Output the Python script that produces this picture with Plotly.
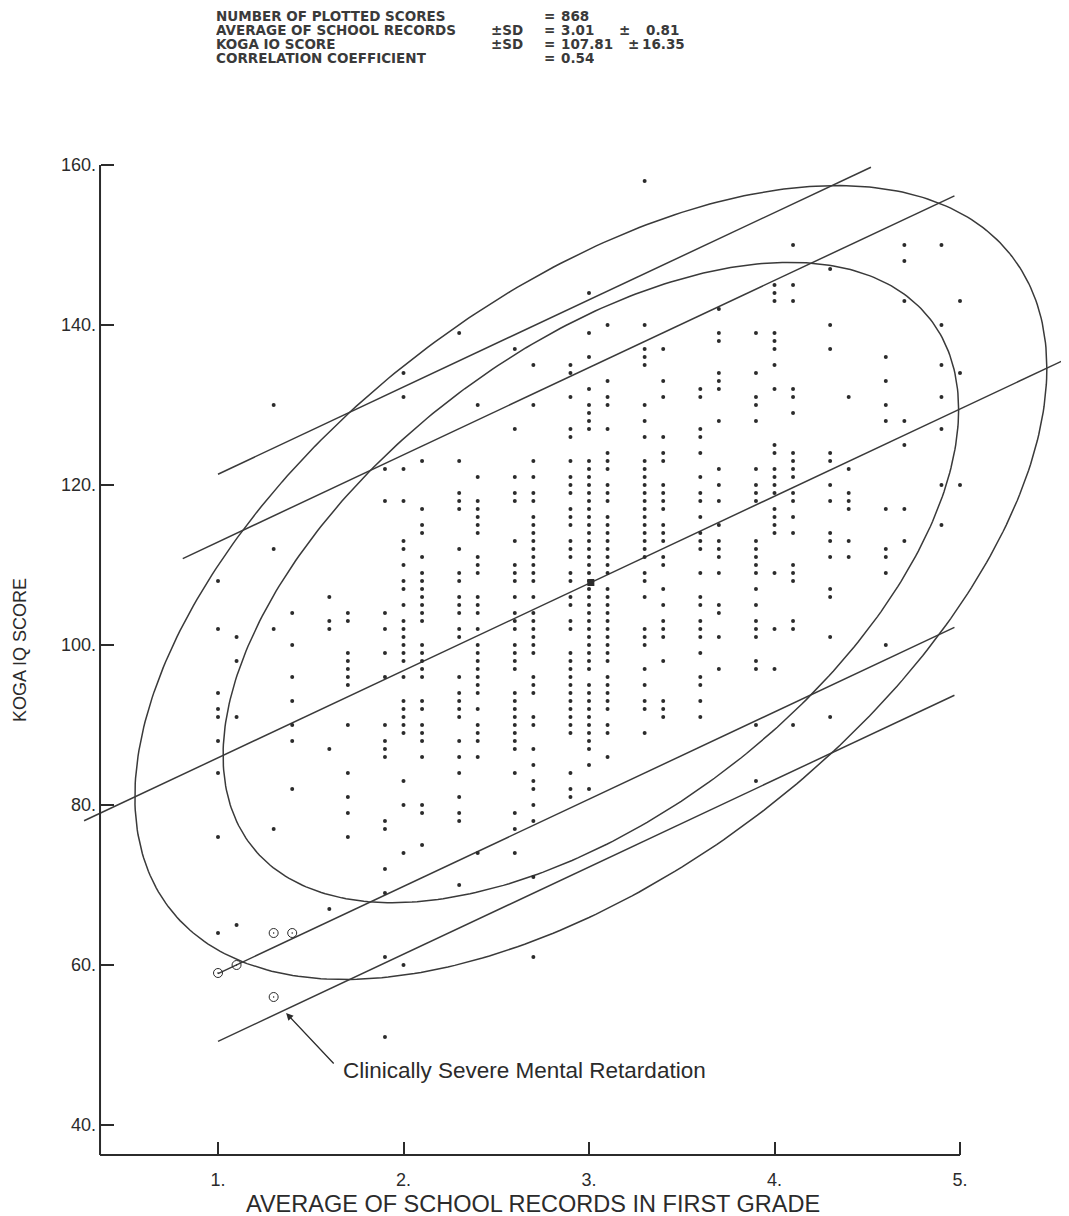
import numpy as np
import plotly.graph_objects as go

# ---------------- summary statistics (header) ----------------
n_scores = 868
mean_rec, sd_rec = 3.01, 0.81
mean_iq, sd_iq = 107.81, 16.35
corr = 0.54

# ---------------- plotted scores: IQ values per school-record column ----------------
iq_at_1_0 = [108, 102, 94, 92, 91, 88, 84, 76, 64]
iq_at_1_1 = [101, 98, 91, 65]
iq_at_1_3 = [130, 112, 102, 77]
iq_at_1_4 = [104, 100, 96, 93, 90, 88, 82]
iq_at_1_6 = [106, 103, 102, 87, 67]
iq_at_1_7 = [104, 103, 99, 98, 97, 96, 95, 90, 84, 81, 79, 76]
iq_at_1_9 = [122, 118, 104, 102, 99, 96, 90, 88, 87, 86, 78, 77, 72, 69, 61, 51]
iq_at_2_0 = [134, 131, 122, 118, 113, 112, 110, 108, 107, 105, 103, 102, 101, 100, 99, 98,
             96, 93, 92, 91, 90, 89, 83, 80, 74, 60]
iq_at_2_1 = [123, 117, 115, 114, 111, 109, 108, 107, 106, 105, 104, 103, 100, 99, 98, 97,
             96, 93, 92, 90, 89, 88, 86, 80, 79, 75]
iq_at_2_3 = [139, 123, 119, 118, 117, 112, 109, 108, 106, 105, 104, 102, 101, 96, 94, 93,
             92, 91, 88, 86, 84, 81, 79, 78, 70]
iq_at_2_4 = [130, 121, 118, 117, 116, 115, 114, 111, 110, 109, 106, 105, 104, 102, 100, 99,
             98, 97, 96, 95, 94, 92, 90, 89, 88, 86, 74]
iq_at_2_6 = [137, 127, 121, 119, 118, 113, 110, 109, 108, 106, 104, 103, 102, 100, 99, 98,
             97, 94, 93, 92, 91, 90, 89, 88, 87, 84, 79, 77, 74]
iq_at_2_7 = [135, 130, 123, 121, 119, 118, 116, 115, 114, 113, 112, 111, 110, 109, 108, 106,
             104, 103, 102, 101, 100, 99, 96, 95, 94, 91, 90, 87, 85, 83, 82, 80, 78, 71, 61]
iq_at_2_9 = [135, 134, 131, 127, 126, 123, 121, 120, 119, 117, 116, 115, 113, 112, 111, 109,
             108, 106, 105, 103, 102, 99, 98, 97, 96, 95, 94, 93, 92, 91, 90, 89, 84, 82, 81]
iq_at_3_0 = [144, 139, 136, 132, 130, 129, 128, 127, 123, 122, 121, 120, 119, 118, 117, 116,
             115, 114, 113, 112, 111, 110, 109, 108, 107, 106, 105, 104, 103, 102, 101, 100,
             99, 98, 97, 95, 94, 93, 92, 91, 90, 89, 88, 87, 85, 82]
iq_at_3_1 = [140, 133, 131, 130, 127, 124, 123, 122, 120, 119, 118, 116, 115, 114, 113, 112,
             111, 110, 109, 107, 106, 105, 104, 103, 102, 101, 100, 99, 98, 96, 95, 94, 93,
             92, 90, 89, 86]
iq_at_3_3 = [158, 140, 137, 136, 135, 130, 128, 126, 123, 122, 121, 120, 119, 118, 117, 116,
             115, 114, 113, 112, 111, 109, 108, 106, 102, 101, 100, 97, 95, 93, 92, 89]
iq_at_3_4 = [137, 133, 131, 126, 124, 123, 120, 119, 118, 117, 115, 114, 113, 111, 110, 107,
             105, 103, 102, 101, 98, 93, 92, 91]
iq_at_3_6 = [132, 131, 127, 126, 124, 121, 119, 118, 116, 114, 113, 112, 109, 106, 105, 103,
             102, 101, 99, 96, 95, 93, 91]
iq_at_3_7 = [142, 139, 138, 134, 133, 132, 128, 122, 120, 118, 115, 113, 112, 111, 109, 105,
             104, 101, 97]
iq_at_3_9 = [139, 134, 131, 130, 128, 122, 120, 119, 118, 113, 112, 111, 110, 109, 107, 105,
             103, 102, 101, 98, 97, 90, 83]
iq_at_4_0 = [145, 144, 143, 139, 138, 137, 135, 132, 125, 124, 122, 121, 120, 119, 117, 116,
             115, 114, 109, 102, 97]
iq_at_4_1 = [150, 145, 143, 132, 131, 129, 124, 123, 122, 121, 119, 118, 116, 114, 110, 109,
             108, 103, 102, 90]
iq_at_4_3 = [147, 140, 137, 124, 123, 120, 118, 114, 113, 111, 107, 106, 101, 91]
iq_at_4_4 = [131, 122, 119, 118, 117, 113, 111]
iq_at_4_6 = [136, 133, 130, 128, 117, 112, 111, 109, 100]
iq_at_4_7 = [150, 148, 143, 128, 125, 117, 113]
iq_at_4_9 = [150, 140, 135, 131, 127, 120, 115]
iq_at_5_0 = [143, 134, 120]

record_columns = [1.0, 1.1, 1.3, 1.4, 1.6, 1.7, 1.9, 2.0, 2.1, 2.3, 2.4, 2.6, 2.7, 2.9, 3.0,
                  3.1, 3.3, 3.4, 3.6, 3.7, 3.9, 4.0, 4.1, 4.3, 4.4, 4.6, 4.7, 4.9, 5.0]
iq_columns = [iq_at_1_0, iq_at_1_1, iq_at_1_3, iq_at_1_4, iq_at_1_6, iq_at_1_7, iq_at_1_9,
              iq_at_2_0, iq_at_2_1, iq_at_2_3, iq_at_2_4, iq_at_2_6, iq_at_2_7, iq_at_2_9,
              iq_at_3_0, iq_at_3_1, iq_at_3_3, iq_at_3_4, iq_at_3_6, iq_at_3_7, iq_at_3_9,
              iq_at_4_0, iq_at_4_1, iq_at_4_3, iq_at_4_4, iq_at_4_6, iq_at_4_7, iq_at_4_9,
              iq_at_5_0]

# circled: clinically severe mental retardation
severe_rec = [1.0, 1.1, 1.3, 1.4, 1.3]
severe_iq = [59, 60, 64, 64, 56]

x_ticks = [1, 2, 3, 4, 5]
x_tick_text = ["1.", "2.", "3.", "4.", "5."]
y_ticks = [40, 60, 80, 100, 120, 140, 160]
y_tick_text = ["40.", "60.", "80.", "100.", "120.", "140.", "160."]

# ---------------- layout geometry (pixels) ----------------
OFF = 8                     # page body margin
W, H = 1061, 1208
L, R, T, B = 52, 0, 142, 40
PW, PH = W - L - R, H - T - B
XR = [0.1482, 5.5876]
YR = [33.625, 161.875]


def pxx(p):
    return (p - OFF - L) / PW


def pxy(p):
    return (H - B - (p - OFF)) / PH


ink = "#2b2b2b"
line_col = "#3a3a3a"

fig = go.Figure()

# ---------------- ellipses (95% and 99% bivariate normal) ----------------
t = np.linspace(0, 2 * np.pi, 400)
for chi2 in (5.991, 9.210):
    k = np.sqrt(chi2)
    ex = mean_rec + k * sd_rec * np.cos(t)
    ey = mean_iq + k * sd_iq * (corr * np.cos(t) + np.sqrt(1 - corr ** 2) * np.sin(t))
    fig.add_trace(go.Scatter(x=ex, y=ey, mode="lines", hoverinfo="skip",
                             line=dict(color=line_col, width=1.5), showlegend=False))

# ---------------- regression line and prediction bands ----------------
slope = corr * sd_iq / sd_rec
se = sd_iq * np.sqrt(1 - corr ** 2)
band_z = [0.0, 1.96, 2.576, -1.96, -2.576]
band_x0 = [0.278, 0.81, 1.0, 1.0, 1.0]
band_x1 = [5.70, 4.97, 4.52, 4.97, 4.97]
for z, a, b in zip(band_z, band_x0, band_x1):
    lx = np.array([a, b])
    ly = mean_iq + slope * (lx - mean_rec) + z * se
    fig.add_trace(go.Scatter(x=lx, y=ly, mode="lines", hoverinfo="skip",
                             line=dict(color=line_col, width=1.5), showlegend=False))

# ---------------- scatter points ----------------
xs, ys = [], []
for xv, col in zip(record_columns, iq_columns):
    xs += [xv] * len(col)
    ys += col
fig.add_trace(go.Scatter(x=xs, y=ys, mode="markers", showlegend=False,
                         marker=dict(size=4, color=ink)))
fig.add_trace(go.Scatter(x=severe_rec, y=severe_iq, mode="markers", showlegend=False,
                         marker=dict(symbol="circle-open-dot", size=9, color=ink,
                                     line=dict(width=1, color=ink))))
fig.add_trace(go.Scatter(x=[mean_rec], y=[mean_iq], mode="markers", showlegend=False,
                         marker=dict(symbol="square", size=7, color=ink)))

# ---------------- axes lines (as shapes) ----------------
x_axis_left = 0.364
fig.add_shape(type="line", xref="x", yref="y", x0=x_axis_left, x1=5.0, y0=36.25, y1=36.25,
              line=dict(color=ink, width=2))
fig.add_shape(type="line", xref="x", yref="y", x0=x_axis_left, x1=x_axis_left, y0=36.25, y1=160,
              line=dict(color=ink, width=2))

tick_font = dict(family="Liberation Sans, Arial, sans-serif", size=18, color=ink)

fig.update_xaxes(range=XR, anchor="free", position=pxy(1155), showgrid=False, zeroline=False,
                 showline=False, tickmode="array", tickvals=x_ticks, ticktext=x_tick_text,
                 ticks="inside", ticklen=13, tickwidth=1.6, tickcolor=ink,
                 tickfont=tick_font, ticklabelstandoff=12)
fig.update_yaxes(range=YR, anchor="free", position=pxx(100), showgrid=False, zeroline=False,
                 showline=False, tickmode="array", tickvals=y_ticks, ticktext=y_tick_text,
                 ticks="inside", ticklen=13, tickwidth=1.6, tickcolor=ink,
                 tickfont=tick_font, ticklabelstandoff=4)

# ---------------- texts ----------------
ann = []
hdr_font = dict(family="DejaVu Sans, Liberation Sans, sans-serif", size=13.5, color="#3a3a3a")
rows_y = [15, 29.5, 43.5, 57.5]
header = [
    [("NUMBER OF PLOTTED SCORES", 215), ("=", 543), (f"{n_scores}", 560)],
    [("AVERAGE OF SCHOOL RECORDS", 215), ("\u00b1SD", 490), ("=", 543), (f"{mean_rec:.2f}", 560),
     ("\u00b1", 618), (f"{sd_rec:.2f}", 645)],
    [("KOGA IQ SCORE", 215), ("\u00b1SD", 490), ("=", 543), (f"{mean_iq:.2f}", 560),
     ("\u00b1", 627), (f"{sd_iq:.2f}", 641)],
    [("CORRELATION COEFFICIENT", 215), ("=", 543), (f"{corr:.2f}", 560)],
]
for items, yy in zip(header, rows_y):
    for txt, xp in items:
        ann.append(dict(text=f"<b>{txt}</b>", x=pxx(xp), y=pxy(yy), xref="paper", yref="paper",
                        xanchor="left", yanchor="middle", showarrow=False, font=hdr_font,
                        height=11, borderpad=0))

ann.append(dict(text="AVERAGE OF SCHOOL RECORDS IN FIRST GRADE", x=pxx(533), y=pxy(1204),
                xref="paper", yref="paper", xanchor="center", yanchor="middle", showarrow=False,
                font=dict(family="Liberation Sans, Arial, sans-serif", size=23.5, color=ink)))
ann.append(dict(text="KOGA IQ SCORE", x=pxx(20), y=pxy(650), xref="paper", yref="paper",
                xanchor="center", yanchor="middle", textangle=-90, showarrow=False,
                font=dict(family="Liberation Sans, Arial, sans-serif", size=18, color=ink)))
ann.append(dict(text="Clinically Severe Mental Retardation", x=pxx(341), y=pxy(1070),
                xref="paper", yref="paper", xanchor="left", yanchor="middle", showarrow=False,
                font=dict(family="Liberation Sans, Arial, sans-serif", size=22.5, color=ink)))
ann.append(dict(text="", x=1.367, y=54.0, xref="x", yref="y", showarrow=True,
                arrowhead=2, arrowsize=1.1, arrowwidth=1.3, arrowcolor=ink,
                ax=49, ay=52, axref="pixel", ayref="pixel"))

fig.update_layout(width=W, height=H, margin=dict(l=L, r=R, t=T, b=B),
                  plot_bgcolor="white", paper_bgcolor="white", annotations=ann,
                  showlegend=False)

fig.write_html("out.html")
